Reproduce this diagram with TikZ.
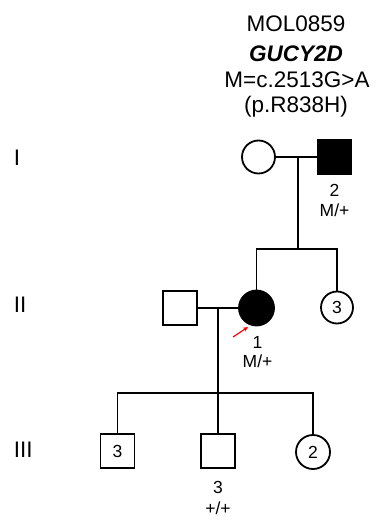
\documentclass[tikz,border=0pt]{standalone}
\usepackage{fontspec}
\setmainfont{Liberation Sans}
\usetikzlibrary{arrows.meta}
\begin{document}
\begin{tikzpicture}[x=1pt,y=-1pt,
  line width=1.9pt,
  male/.style={draw,line width=1.8pt,minimum size=34pt,inner sep=0pt,font=\fontsize{17.5}{20}\selectfont},
  female/.style={draw,circle,line width=1.8pt,minimum size=33pt,inner sep=0pt,font=\fontsize{17.5}{20}\selectfont},
  aff/.style={fill=black},
  lbl/.style={anchor=base,inner sep=0pt,font=\fontsize{17.5}{20}\selectfont},
  hdr/.style={anchor=base,inner sep=0pt,font=\fontsize{22.5}{26}\selectfont},
  gen/.style={anchor=base west,inner sep=0pt,font=\fontsize{22.5}{26}\selectfont}]
\useasboundingbox (0,0) rectangle (377,522);
% header
\node[hdr] (h1) at (296,31.7) {MOL0859};
\node[hdr] (h2) at (296,61.7) {\textbf{\textit{GUCY2D}}};
\node[hdr] (h3) at (297,87.3) {M=c.2513G>A};
\node[hdr] (h4) at (296,112.5) {(p.R838H)};
% generation labels
\node[gen] (g1) at (13,165) {I};
\node[gen] (g2) at (13,312) {II};
\node[gen] (g3) at (13,457) {III};
% generation I
\node[female] (A) at (258.5,157) {};
\node[male,aff] (B) at (334.5,157) {};
\node[lbl] (B1) at (334.5,196.7) {2};
\node[lbl] (B2) at (334.5,216.7) {M/+};
\coordinate (mA) at (298,157);
\coordinate (sA) at (298,249);
\coordinate (sAl) at (256.5,249);
\coordinate (sAr) at (337,249);
% generation II
\node[male] (E) at (180,308) {};
\node[female,aff,minimum size=35pt] (C) at (256.5,308) {};
\node[female,minimum size=32pt] (D) at (337,307.5) {3};
\node[lbl] (C1) at (257.5,348) {1};
\node[lbl] (C2) at (257.5,367) {M/+};
\coordinate (mE) at (218,308);
\coordinate (sE) at (218,393);
\coordinate (sEl) at (117.5,393);
\coordinate (sEr) at (313,393);
% generation III
\node[male] (F) at (117.5,451) {3};
\node[male] (G) at (218,451) {};
\node[female,minimum size=34pt] (H) at (313,452) {2};
\node[lbl] (G1) at (218,493.3) {3};
\node[lbl] (G2) at (218,514) {+/+};
% lines
\draw (A.east) -- (B.west);
\draw (mA) -- (sA);
\draw (C.north) -- (sAl) -- (sAr) -- (D.north);
\draw (E.east) -- (C.west);
\draw (mE) -- (sE);
\draw (F.north) -- (sEl) -- (sEr) -- (H.north);
\draw (sE) -- (G.north);
% proband arrow
\coordinate (ar1) at (233,337);
\coordinate (ar2) at (248,327);
\draw[red,line width=1.2pt,-{Stealth[length=5pt,width=4.5pt]}] (ar1) -- (ar2);
\end{tikzpicture}
\end{document}
